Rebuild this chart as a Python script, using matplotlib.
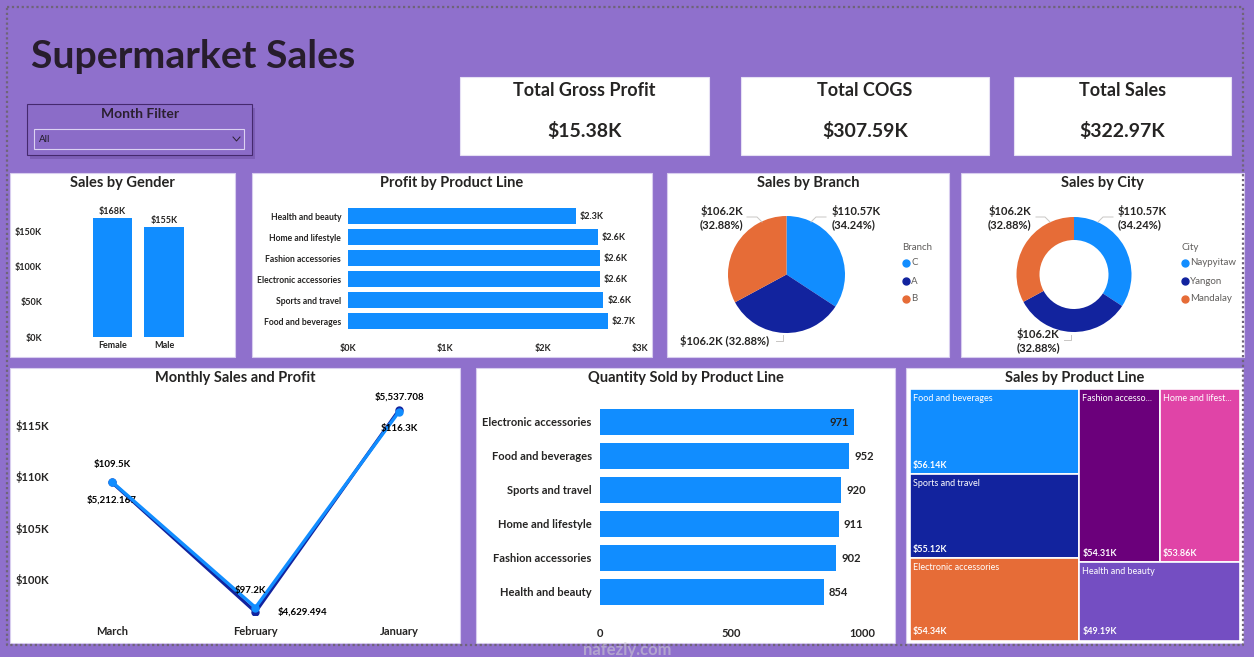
import matplotlib
matplotlib.use("Agg")
import matplotlib.pyplot as plt
from matplotlib.patches import Rectangle
from matplotlib.lines import Line2D

W, H = 1254, 657

# ---- data ----
kpi_titles = ["Total Gross Profit", "Total COGS", "Total Sales"]
kpi_values = ["$15.38K", "$307.59K", "$322.97K"]

genders = ["Female", "Male"]
gender_sales = [167883, 155084]

profit_lines = ["Health and beauty", "Home and lifestyle", "Fashion accessories",
                "Electronic accessories", "Sports and travel", "Food and beverages"]
profit_values = [2342.56, 2564.85, 2585.99, 2587.50, 2624.90, 2673.56]

branches = ["C", "A", "B"]
branch_sales = [110568.7, 106200.4, 106197.7]

cities = ["Naypyitaw", "Yangon", "Mandalay"]
city_sales = [110568.7, 106200.4, 106197.7]

months = ["March", "February", "January"]
month_sales = [109455.5, 97219.4, 116291.9]
month_profit = [5212.167, 4629.494, 5537.708]

qty_lines = ["Electronic accessories", "Food and beverages", "Sports and travel",
             "Home and lifestyle", "Fashion accessories", "Health and beauty"]
qty_values = [971, 952, 920, 911, 902, 854]

tree_lines = ["Food and beverages", "Sports and travel", "Electronic accessories",
              "Fashion accessories", "Home and lifestyle", "Health and beauty"]
tree_short = ["Food and beverages", "Sports and travel", "Electronic accessories",
              "Fashion accesso...", "Home and lifest...", "Health and beauty"]
tree_sales = [56144.8, 55122.8, 54337.5, 54305.9, 53861.9, 49193.7]

# ---- style ----
BG = "#8f70cc"
BLUE = "#118dff"
NAVY = "#12239e"
ORANGE = "#e66c37"
PURPLE = "#6b007b"
PINK = "#e044a7"
VIOLET = "#744ec2"
DARK = "#252423"
GREY = "#605e5c"
FONT = "Lato"

plt.rcParams["font.family"] = [FONT, "DejaVu Sans"]

fig = plt.figure(figsize=(W / 100, H / 100), dpi=100, facecolor=BG)


def rect(x0, y0, x1, y1):
    return [x0 / W, 1 - y1 / H, (x1 - x0) / W, (y1 - y0) / H]


def ftext(x, y, s, **kw):
    kw.setdefault("color", DARK)
    kw.setdefault("va", "center")
    return fig.text(x / W, 1 - y / H, s, **kw)


def panel(x0, y0, x1, y1, title=None, ty=None, fc="white", ec="#d8cdef"):
    fig.patches.append(Rectangle((x0 / W, 1 - y1 / H), (x1 - x0) / W, (y1 - y0) / H,
                                 transform=fig.transFigure, facecolor=fc,
                                 edgecolor=ec, lw=0.8, zorder=-1))
    if title:
        ftext((x0 + x1) / 2, ty, title, ha="center", fontsize=10.5,
              fontweight="bold", color=DARK)


def clean(ax):
    ax.set_facecolor("none")
    for s in ax.spines.values():
        s.set_visible(False)
    ax.tick_params(length=0)


# ---- title + filter ----
ftext(31, 57, "Supermarket Sales", fontsize=28.3, fontweight="bold", color="#271d2c")

fig.patches.append(Rectangle((30 / W, 1 - 159 / H), 225 / W, 51 / H,
                             transform=fig.transFigure, facecolor="#5d3f8f",
                             alpha=0.35, lw=0, zorder=-2))
panel(27, 104, 252, 155, fc="#8b6cc8", ec="#45296e")
ftext(140, 114, "Month Filter", ha="center", fontsize=10, fontweight="bold", color="#2b2030")
panel(34, 129, 244, 149, fc="#8b6cc8", ec="#dcd2f2")
ftext(39, 140, "All", fontsize=7, color="#1f1a24")
fig.lines.append(Line2D([233 / W, 236.5 / W, 240 / W], [1 - 137 / H, 1 - 141 / H, 1 - 137 / H],
                        transform=fig.transFigure, color="#2b2030", lw=0.7))

# ---- KPI cards ----
kpi_boxes = [(460, 709), (741, 989), (1014, 1231)]
for (x0, x1), t, v in zip(kpi_boxes, kpi_titles, kpi_values):
    panel(x0, 77, x1, 155, ec="#e6e0f4")
    ftext((x0 + x1) / 2, 90, t, ha="center", fontsize=13, fontweight="bold", color=DARK)
    ftext((x0 + x1) / 2, 131, v, ha="center", fontsize=14, fontweight="bold", color=DARK)

# ---- Sales by Gender ----
panel(10, 173, 235, 357, "Sales by Gender", 183)
ax = fig.add_axes(rect(45, 200, 230, 337))
clean(ax)
xs = range(len(genders))
ax.bar(xs, gender_sales, width=0.76, color=BLUE)
for x, v in zip(xs, gender_sales):
    ax.text(x, v + 4000, f"${v / 1000:.0f}K", ha="center", va="bottom",
            fontsize=6.5, fontweight="bold", color=DARK)
ax.set_xlim(-1.31, 2.28)
ax.set_ylim(0, 194000)
ax.set_yticks([0, 50000, 100000, 150000])
ax.set_yticklabels(["$0K", "$50K", "$100K", "$150K"], fontsize=6.5, fontweight="bold", color=DARK)
ax.set_xticks(list(xs))
ax.set_xticklabels(genders, fontsize=6.5, fontweight="bold", color=DARK)
ax.tick_params(axis="y", pad=2)
ax.tick_params(axis="x", pad=3)

# ---- Profit by Product Line ----
panel(252, 173, 652, 357, "Profit by Product Line", 183)
ax = fig.add_axes(rect(348, 205.5, 640, 331.5))
clean(ax)
ys = range(len(profit_lines))
ax.barh(ys, profit_values, height=0.77, color=BLUE)
for y, v in zip(ys, profit_values):
    ax.text(v + 40, y, f"${v / 1000:.1f}K", va="center", fontsize=6.5,
            fontweight="bold", color=DARK)
ax.set_xlim(0, 3000)
ax.set_ylim(5.5, -0.5)
ax.set_yticks(list(ys))
ax.set_yticklabels(profit_lines, fontsize=6.2, fontweight="bold", color=DARK)
ax.set_xticks([0, 1000, 2000, 3000])
ax.set_xticklabels(["$0K", "$1K", "$2K", "$3K"], fontsize=6.5, fontweight="bold", color=DARK)
ax.tick_params(axis="y", pad=5)
ax.tick_params(axis="x", pad=9)


# ---- pies ----
def kfmt(v):
    return "$" + f"{v / 1000:.2f}".rstrip("0").rstrip(".") + "K"


def pie_panel(cx, cy, r, values, names, legend_title, lx, labels_pos, hole=None):
    ax = fig.add_axes(rect(cx - r, cy - r, cx + r, cy + r))
    ax.set_axis_off()
    wp = dict(edgecolor="none")
    if hole:
        wp["width"] = hole
    ax.pie(values, colors=[BLUE, NAVY, ORANGE], startangle=90, counterclock=False,
           radius=1, wedgeprops=wp)
    ax.set_xlim(-1, 1)
    ax.set_ylim(-1, 1)
    total = sum(values)
    for v, (tx, ty, ha, one_line, lead) in zip(values, labels_pos):
        pct = f"({v / total * 100:.2f}%)"
        s = f"{kfmt(v)} {pct}" if one_line else f"{kfmt(v)}\n{pct}"
        ftext(tx, ty, s, ha=ha, fontsize=8, fontweight="bold", color=DARK,
              linespacing=1.25)
        fig.lines.append(Line2D([p[0] / W for p in lead], [1 - p[1] / H for p in lead],
                                transform=fig.transFigure, color="#c8c6c4", lw=0.7))
    ftext(lx, 248, legend_title, fontsize=7, color=GREY)
    for i, (n, c) in enumerate(zip(names, [BLUE, NAVY, ORANGE])):
        y = 263 + i * 18
        fig.lines.append(Line2D([(lx + 4) / W], [1 - y / H], transform=fig.transFigure,
                                marker="o", ms=5, color=c, lw=0))
        ftext(lx + 9, y, n, fontsize=7, color=GREY)


panel(667, 173, 949, 357, "Sales by Branch", 183)
pie_panel(786.5, 274.5, 58.5, branch_sales, branches, "Branch", 902,
          [(832, 218, "left", False, [(811, 222), (816, 217), (826, 217)]),
           (680, 341, "left", True, [(783, 335), (783, 341), (776, 341)]),
           (743, 218, "right", False, [(762, 222), (757, 217), (747, 217)])])

panel(961, 173, 1244, 357, "Sales by City", 183)
pie_panel(1074, 274.5, 57.5, city_sales, cities, "City", 1181,
          [(1118, 218, "left", False, [(1098, 222), (1103, 217), (1113, 217)]),
           (1038, 341, "center", False, [(1071, 335), (1071, 340), (1064, 340)]),
           (1031, 218, "right", False, [(1050, 222), (1045, 217), (1036, 217)])],
          hole=0.4)

# ---- Monthly Sales and Profit ----
panel(10, 368, 460, 643, "Monthly Sales and Profit", 378)
ax = fig.add_axes(rect(60, 385, 455, 615))
clean(ax)
xs = range(len(months))
ax.plot(xs, month_sales, color=BLUE, lw=2.4, marker="o", ms=5, zorder=3)
ax.set_xlim(-0.362, 2.39)
ax.set_ylim(96490, 118890)
ax.set_yticks([100000, 105000, 110000, 115000])
ax.set_yticklabels(["$100K", "$105K", "$110K", "$115K"], fontsize=8, fontweight="bold", color=DARK)
ax.set_xticks(list(xs))
ax.set_xticklabels(months, fontsize=8, fontweight="bold", color=DARK)
ax.tick_params(axis="y", pad=8)
ax.tick_params(axis="x", pad=8)
ax2 = ax.twinx()
clean(ax2)
ax2.set_yticks([])
ax2.plot(xs, month_profit, color=NAVY, lw=2.4, marker="o", ms=5, zorder=2)
ax2.set_ylim(4616, 5650)
ax.set_zorder(ax2.get_zorder() + 1)
sales_off = [(0, 9), (-0.04, 9), (0, -9)]
for x, v, (dx, dy) in zip(xs, month_sales, sales_off):
    ax.annotate(f"${v / 1000:.1f}K", (x, v), xytext=(dx * 100, dy), textcoords="offset points",
                ha="center", va="bottom" if dy > 0 else "top", fontsize=7,
                fontweight="bold", color="black")
prof_off = [(0, -9, "center", "top"), (16, 0, "left", "center"), (0, 6, "center", "bottom")]
for x, v, (dx, dy, ha, va) in zip(xs, month_profit, prof_off):
    ax2.annotate(f"${v:,.3f}", (x, v), xytext=(dx, dy), textcoords="offset points",
                 ha=ha, va=va, fontsize=7, fontweight="bold", color="black")

# ---- Quantity Sold by Product Line ----
panel(476, 368, 895, 643, "Quantity Sold by Product Line", 378)
ax = fig.add_axes(rect(600, 405, 885, 609))
clean(ax)
ys = range(len(qty_lines))
ax.barh(ys, qty_values, height=0.77, color=BLUE)
for y, v in zip(ys, qty_values):
    if v == max(qty_values):
        ax.text(v - 20, y, str(v), ha="right", va="center", fontsize=8, fontweight="bold", color=DARK)
    else:
        ax.text(v + 20, y, str(v), ha="left", va="center", fontsize=8, fontweight="bold", color=DARK)
ax.set_xlim(0, 1087.8)
ax.set_ylim(5.5, -0.5)
ax.set_yticks(list(ys))
ax.set_yticklabels(qty_lines, fontsize=8, fontweight="bold", color=DARK)
ax.set_xticks([0, 500, 1000])
ax.set_xticklabels(["0", "500", "1000"], fontsize=8, fontweight="bold", color=DARK)
ax.tick_params(axis="y", pad=6)
ax.tick_params(axis="x", pad=14)

# ---- Sales by Product Line (treemap) ----
panel(906, 368, 1243, 643, "Sales by Product Line", 378)
ax = fig.add_axes(rect(910, 389, 1240, 641))
ax.set_axis_off()
ax.set_xlim(0, 1)
ax.set_ylim(1, 0)
tcolors = [BLUE, NAVY, ORANGE, PURPLE, PINK, VIOLET]
total = sum(tree_sales)
left = tree_sales[:3]
right_top = tree_sales[3:5]
right_bot = tree_sales[5:]
wl = sum(left) / total
cells = []
y = 0
for v in left:
    h = v / sum(left)
    cells.append((0, y, wl, h))
    y += h
ht = sum(right_top) / (sum(right_top) + sum(right_bot))
x = wl
for v in right_top:
    w = (1 - wl) * v / sum(right_top)
    cells.append((x, 0, w, ht))
    x += w
cells.append((wl, ht, 1 - wl, 1 - ht))
for (x0, y0, w, h), c, n, v in zip(cells, tcolors, tree_short, tree_sales):
    ax.add_patch(Rectangle((x0, y0), w, h, facecolor=c, edgecolor="white", lw=1.2))
    ax.text(x0 + 0.009, y0 + 0.018, n, ha="left", va="top", fontsize=6.5, color="white")
    ax.text(x0 + 0.009, y0 + h - 0.018, f"${v / 1000:.2f}K", ha="left", va="bottom",
            fontsize=6.5, fontweight="bold", color="white")

# ---- dotted canvas border + watermark ----
bx = [7, 1243, 1243, 7, 7]
by = [7, 7, 645, 645, 7]
fig.lines.append(Line2D([v / W for v in bx], [1 - v / H for v in by], transform=fig.transFigure,
                        color="#6f6479", lw=1.6, linestyle=(0, (1, 1.2))))
ftext(627, 650, "nafezly.com", ha="center", fontsize=12, fontweight="bold",
      color="#d0d0d0", alpha=0.55)

fig.savefig("out.png", dpi=100, facecolor=BG)
